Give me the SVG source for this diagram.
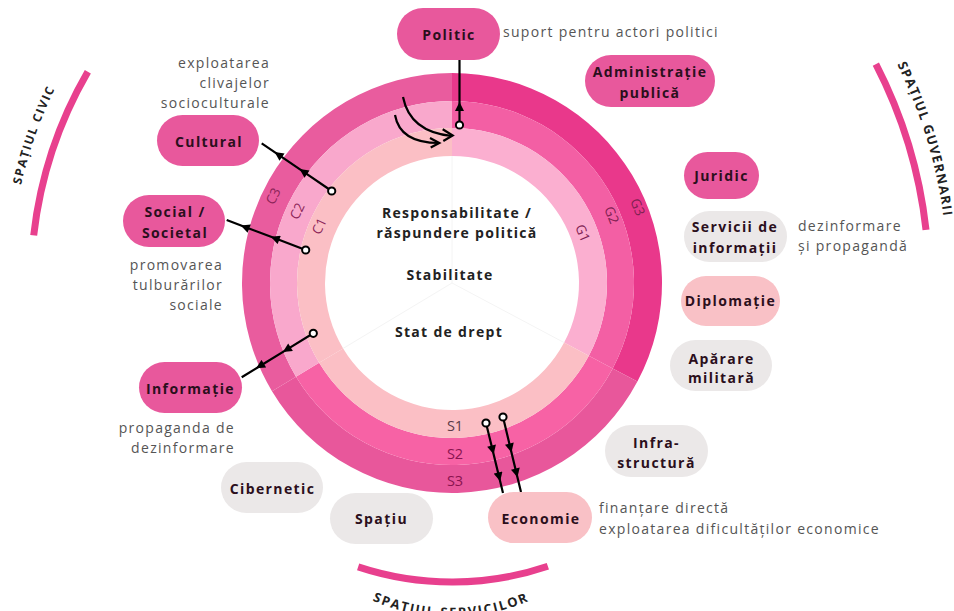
<svg xmlns="http://www.w3.org/2000/svg" width="954" height="611" viewBox="0 0 954 611">
<defs>
<style>
.nt{font-family:"Open Sans","DejaVu Sans",sans-serif;font-weight:700;font-size:14px;letter-spacing:1.4px;fill:#2b0f1c;text-anchor:middle}
.an{font-family:"Open Sans","DejaVu Sans",sans-serif;font-size:14px;letter-spacing:1.3px;fill:#555}
.ar{text-anchor:end}
.ct{font-family:"Open Sans","DejaVu Sans",sans-serif;font-weight:700;font-size:14px;letter-spacing:1.3px;fill:#222;text-anchor:middle}
.rl{font-family:"Open Sans","DejaVu Sans",sans-serif;font-size:13.5px;text-anchor:middle;dominant-baseline:central}
.sl{font-size:14.5px}
.sp{font-family:"Open Sans","DejaVu Sans",sans-serif;font-weight:700;font-size:13px;letter-spacing:1.3px;fill:#222}
.pk{fill:#e8589c}
.gr{fill:#ebe8e8}
.pc{fill:#f9c1c6}
.arc{fill:none;stroke:#e8408e;stroke-width:7}
.cn{fill:none;stroke:#000;stroke-width:2.2}
</style>
<marker id="ah" viewBox="0 0 10 10" refX="5" refY="5" markerWidth="10" markerHeight="9" markerUnits="userSpaceOnUse" orient="auto"><path d="M0,0 L10,5 L0,10 z" fill="#000"/></marker>
<marker id="dot" viewBox="0 0 10 10" refX="5" refY="5" markerWidth="10" markerHeight="10" markerUnits="userSpaceOnUse"><circle cx="5" cy="5" r="3.6" fill="#fff" stroke="#000" stroke-width="2"/></marker>
<path id="tpCivic" d="M10.02,286.86 A442,442 0 0 1 110.94,1.85"/>
<path id="tpGov" d="M848.64,-14.81 A496,496 0 0 1 947.27,309.82"/>
<path id="tpServ" d="M325.01,571.14 A196,196 0 0 0 576.99,571.14"/>
</defs>
<rect width="954" height="611" fill="#fff"/>

<g id="rings">
<path d="M452,73 A210,210 0 0 1 637.42,381.59 L612.70,368.44 A182,182 0 0 0 452,101 Z" fill="#e9388b"/>
<path d="M452,101 A182,182 0 0 1 612.70,368.44 L588.86,355.77 A155,155 0 0 0 452,128 Z" fill="#f35fa4"/>
<path d="M452,128 A155,155 0 0 1 588.86,355.77 L564.13,342.62 A127,127 0 0 0 452,156 Z" fill="#fbafd0"/>
<path d="M637.42,381.59 A210,210 0 0 1 271.99,391.16 L296.0,376.74 A182,182 0 0 0 612.70,368.44 Z" fill="#e8579b"/>
<path d="M612.70,368.44 A182,182 0 0 1 296.0,376.74 L319.14,362.83 A155,155 0 0 0 588.86,355.77 Z" fill="#f762a5"/>
<path d="M588.86,355.77 A155,155 0 0 1 319.14,362.83 L343.14,348.41 A127,127 0 0 0 564.13,342.62 Z" fill="#fbbfc5"/>
<path d="M271.99,391.16 A210,210 0 0 1 452,73 L452,101 A182,182 0 0 0 296.0,376.74 Z" fill="#e95c9e"/>
<path d="M296.0,376.74 A182,182 0 0 1 452,101 L452,128 A155,155 0 0 0 319.14,362.83 Z" fill="#f9a8cc"/>
<path d="M319.14,362.83 A155,155 0 0 1 452,128 L452,156 A127,127 0 0 0 343.14,348.41 Z" fill="#fbbfc5"/>
<g stroke="#f4f4f4" stroke-width="1">
<line x1="452" y1="283" x2="452" y2="156"/>
<line x1="452" y1="283" x2="343.14" y2="348.41"/>
<line x1="452" y1="283" x2="564.13" y2="342.62"/>
</g>
<text class="rl" x="273" y="196" fill="#8c2458" transform="rotate(-65 273 196)">C3</text>
<text class="rl" x="297" y="211" fill="#8c2458" transform="rotate(-65 297 211)">C2</text>
<text class="rl" x="319" y="226" fill="#8c2458" transform="rotate(-65 319 226)">C1</text>
<text class="rl" x="638" y="207" fill="#7d2050" transform="rotate(68 638 207)">G3</text>
<text class="rl" x="612" y="215" fill="#7d2050" transform="rotate(68 612 215)">G2</text>
<text class="rl" x="583" y="233" fill="#7d2050" transform="rotate(68 583 233)">G1</text>
<text class="rl sl" x="455" y="425" fill="#5a3a48">S1</text>
<text class="rl sl" x="455" y="453" fill="#8a1450">S2</text>
<text class="rl sl" x="455" y="480" fill="#8a1450">S3</text>
<text class="ct" x="457" y="218">Responsabilitate /</text>
<text class="ct" x="457" y="238">răspundere politică</text>
<text class="ct" x="450" y="280">Stabilitate</text>
<text class="ct" x="449" y="337">Stat de drept</text>
</g>

<g id="spaces">
<path class="arc" d="M33.7,235.3 A421,421 0 0 1 87.83,71.86"/>
<path class="arc" d="M875.87,64.22 A477,477 0 0 1 926.03,229.83"/>
<path class="arc" d="M358.12,566.88 A299,299 0 0 0 547.86,566.22"/>
<text class="sp" style="font-size:12px;letter-spacing:1.5px"><textPath href="#tpCivic" startOffset="50%" text-anchor="middle">SPAȚIUL CIVIC</textPath></text>
<text class="sp"><textPath href="#tpGov" startOffset="50%" text-anchor="middle">SPAȚIUL GUVERNARII</textPath></text>
<text class="sp" style="letter-spacing:1.7px"><textPath href="#tpServ" startOffset="50%" text-anchor="middle">SPAȚIUL SERVICILOR</textPath></text>
</g>

<g id="connectors">
<path class="cn" d="M459.5,125 L459.5,106.5 L459.5,60" marker-start="url(#dot)" marker-mid="url(#ah)"/>
<path class="cn" d="M331.7,191 L303.3,171.6 L278.3,154.6 L261.7,143.3" marker-start="url(#dot)" marker-mid="url(#ah)"/>
<path class="cn" d="M305.7,250 L275,238.3 L245,227 L226.7,220" marker-start="url(#dot)" marker-mid="url(#ah)"/>
<path class="cn" d="M313.3,333.3 L286.7,349.6 L260,366 L241.7,377.3" marker-start="url(#dot)" marker-mid="url(#ah)"/>
<path class="cn" d="M486,423 L492.6,450 L499.1,477 L503,493" marker-start="url(#dot)" marker-mid="url(#ah)"/>
<path class="cn" d="M503,417 L510.4,448 L516.4,473 L521,492" marker-start="url(#dot)" marker-mid="url(#ah)"/>
<path class="cn" d="M403,97 Q410,132 452,136"/>
<path class="cn" d="M442.7,129.3 L452.7,135.5 L443.3,141"/>
<path class="cn" d="M395,115 Q400,143 439,143"/>
<path class="cn" d="M430,138 L439.3,143 L430.7,147.5"/>
</g>

<g id="node-politic"><rect class="pk" x="397" y="8" width="103" height="52" rx="26"/><text class="nt" x="449" y="40">Politic</text></g>
<g id="node-administratie"><rect class="pk" x="585" y="55" width="130" height="52" rx="26"/><text class="nt" x="650" y="77">Administrație</text><text class="nt" x="650" y="98">publică</text></g>
<g id="node-juridic"><rect class="pk" x="684" y="152" width="75" height="47" rx="23.5"/><text class="nt" x="721.5" y="181">Juridic</text></g>
<g id="node-servicii"><rect class="gr" x="684" y="211" width="103" height="51" rx="25.5"/><text class="nt" x="735" y="232">Servicii de</text><text class="nt" x="735" y="252.5">informații</text></g>
<g id="node-diplomatie"><rect class="pc" x="681" y="276" width="99" height="50" rx="25"/><text class="nt" x="730.5" y="306">Diplomație</text></g>
<g id="node-aparare"><rect class="gr" x="670" y="340" width="102" height="51" rx="25.5"/><text class="nt" x="721.5" y="363.5">Apărare</text><text class="nt" x="721.5" y="382.5">militară</text></g>
<g id="node-infrastructura"><rect class="gr" x="605" y="425" width="103" height="52" rx="26"/><text class="nt" x="656.5" y="448">Infra-</text><text class="nt" x="656.5" y="468">structură</text></g>
<g id="node-economie"><rect class="pc" x="488" y="492" width="104" height="51" rx="25.5"/><text class="nt" x="541" y="523.5">Economie</text></g>
<g id="node-spatiu"><rect class="gr" x="330" y="493" width="103" height="51" rx="25.5"/><text class="nt" x="381.5" y="524">Spațiu</text></g>
<g id="node-cibernetic"><rect class="gr" x="221" y="462" width="102" height="51" rx="25.5"/><text class="nt" x="272.5" y="493.5">Cibernetic</text></g>
<g id="node-informatie"><rect class="pk" x="139" y="362" width="103" height="51" rx="25.5"/><text class="nt" x="190.5" y="393.5">Informație</text></g>
<g id="node-social"><rect class="pk" x="123" y="195" width="102" height="52" rx="26"/><text class="nt" x="175" y="217">Social /</text><text class="nt" x="175" y="238">Societal</text></g>
<g id="node-cultural"><rect class="pk" x="157" y="115" width="102" height="51" rx="25.5"/><text class="nt" x="209" y="147">Cultural</text></g>

<g id="annotations">
<text class="an" x="503" y="36.5">suport pentru actori politici</text>
<text class="an ar" x="270" y="68">exploatarea</text>
<text class="an ar" x="270" y="88">clivajelor</text>
<text class="an ar" x="270" y="108">socioculturale</text>
<text class="an ar" x="223" y="270">promovarea</text>
<text class="an ar" x="223" y="290">tulburărilor</text>
<text class="an ar" x="223" y="310">sociale</text>
<text class="an ar" x="235" y="433">propaganda de</text>
<text class="an ar" x="235" y="453">dezinformare</text>
<text class="an" x="798" y="231">dezinformare</text>
<text class="an" x="798" y="251">și propagandă</text>
<text class="an" x="599" y="513">finanțare directă</text>
<text class="an" x="599" y="534">exploatarea dificultăților economice</text>
</g>
</svg>
